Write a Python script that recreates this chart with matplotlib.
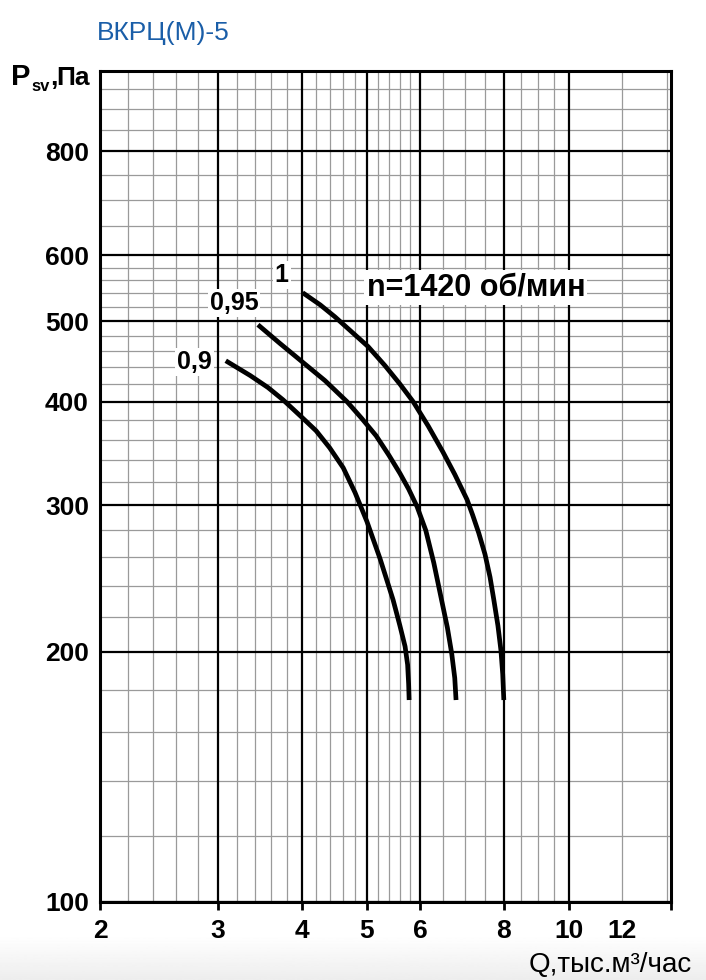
import numpy as np
import matplotlib.pyplot as plt

plt.rcParams['font.family'] = ['Liberation Sans', 'DejaVu Sans']

# ----------------------------- DATA (Q, тыс.м3/час ; Psv, Па)
q_100 = [4.01, 4.26, 4.48, 4.75, 5.02, 5.32, 5.60, 5.86, 6.17, 6.49, 6.76,
         7.05, 7.19, 7.34, 7.50, 7.63, 7.73, 7.84, 7.92, 7.97, 8.00]
p_100 = [541, 523, 506, 485, 466, 442, 420, 400, 374, 348, 327,
         305, 292, 278, 262, 246, 231, 215, 201, 188, 175]

q_095 = [3.44, 3.71, 4.00, 4.33, 4.67, 4.91, 5.16, 5.39, 5.60, 5.77, 5.94,
         6.12, 6.29, 6.46, 6.59, 6.69, 6.76, 6.79]
p_095 = [495, 470, 447, 424, 400, 382, 364, 345, 328, 314, 299,
         280, 256, 231, 214, 199, 186, 175]

q_090 = [3.08, 3.35, 3.56, 3.75, 4.00, 4.20, 4.40, 4.61, 4.80, 5.00, 5.23,
         5.47, 5.60, 5.70, 5.75, 5.77, 5.78]
p_090 = [448, 430, 416, 402, 383, 369, 352, 333, 311, 287, 259,
         231, 215, 203, 193, 183, 175]

curve_labels = ['1', '0,95', '0,9']

# ----------------------------- AXES / GRID
x_major = [2, 3, 4, 5, 6, 8, 10]
x_minor = [2.2, 2.4, 2.6, 2.8, 3.2, 3.4, 3.6, 3.8, 4.2, 4.4, 4.6, 4.8,
           5.2, 5.4, 5.6, 5.8, 6.5, 7, 7.5, 8.5, 9, 9.5, 12, 14]
y_major = [100, 200, 300, 400, 500, 600, 800]
y_minor = [120, 140, 160, 180, 220, 240, 260, 280, 320, 340, 360, 380,
           420, 440, 460, 480, 520, 540, 560, 580, 650, 700, 750, 850, 900, 950]
x_lim = (2, 14.2)
y_lim = (100, 1000)

fig = plt.figure(figsize=(7.06, 9.8), dpi=100)

# light gradient at the very bottom
bg = fig.add_axes([0, 0, 1, 0.045], zorder=-5)
bg.imshow(np.linspace(1.0, 0.93, 50)[:, None], cmap='gray', vmin=0, vmax=1,
          aspect='auto', extent=[0, 1, 0, 1])
bg.axis('off')

ax = fig.add_axes([0.1416, 0.0796, 0.8088, 0.848])
ax.set_xscale('log')
ax.set_yscale('log')
ax.set_xlim(*x_lim)
ax.set_ylim(*y_lim)

for v in x_minor:
    ax.axvline(v, color='#9a9a9a', lw=0.9, zorder=1)
for v in y_minor:
    ax.axhline(v, color='#9a9a9a', lw=0.9, zorder=1)
for v in x_major:
    ax.axvline(v, color='black', lw=1.6, zorder=1.5)
for v in y_major:
    ax.axhline(v, color='black', lw=1.6, zorder=1.5)

# ----------------------------- CURVES
for q, p in [(q_100, p_100), (q_095, p_095), (q_090, p_090)]:
    ax.plot(q, p, color='black', lw=3.4, solid_capstyle='butt',
            solid_joinstyle='round', zorder=3)

box = dict(facecolor='white', edgecolor='none', pad=1.5)
lab_pos = [(3.73, 568), (3.17, 526), (2.77, 447)]
for txt, (x, y) in zip(curve_labels, lab_pos):
    ax.text(x, y, txt, fontsize=18, fontweight='bold', ha='center', va='center',
            bbox=box, zorder=4)
ax.text(7.27, 549, 'n=1420 об/мин', fontsize=22, fontweight='bold',
        ha='center', va='center', bbox=box, zorder=4)

# ----------------------------- TICKS
ax.set_xticks(x_major + [x_lim[1]], [str(v) for v in x_major] + [''])
ax.set_xticks([12], ['12'], minor=True)
ax.set_yticks(y_major, [str(v) for v in y_major])
ax.set_yticks([], minor=True)
ax.tick_params(axis='x', which='major', length=6, width=2, direction='out',
               pad=6, labelsize=19)
ax.tick_params(axis='x', which='minor', length=0, pad=12, labelsize=19)
for t in ax.get_xticklabels(minor=True) + ax.get_xticklabels():
    t.set_fontweight('bold')
ax.tick_params(axis='y', which='both', length=0, pad=8, labelsize=19)
for t in ax.get_yticklabels():
    t.set_fontweight('bold')

for s in ax.spines.values():
    s.set_linewidth(2.2)
    s.set_zorder(5)

# ----------------------------- TITLES
fig.text(0.137, 0.959, 'ВКРЦ(М)-5', color='#1a5ea8', fontsize=19,
         ha='left', va='baseline')
fig.text(0.016, 0.913, 'P', fontsize=21, fontweight='bold',
         ha='left', va='baseline')
fig.text(0.044, 0.907, 'sv', fontsize=12, fontweight='bold',
         ha='left', va='baseline')
fig.text(0.0715, 0.913, ',', fontsize=19, fontweight='bold',
         ha='left', va='baseline')
fig.text(0.1275, 0.913, 'Па', fontsize=19, fontweight='bold',
         ha='right', va='baseline')
fig.text(0.98, 0.008, 'Q,тыс.м³/час', fontsize=20, ha='right', va='baseline')

fig.savefig('out.png', dpi=100)
